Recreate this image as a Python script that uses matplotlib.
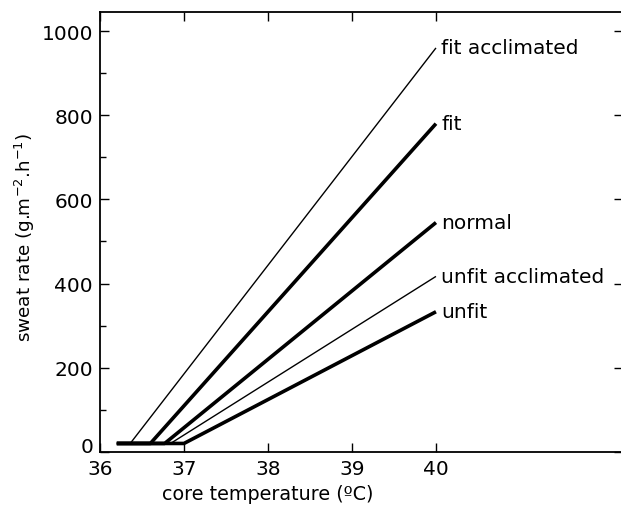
import matplotlib
matplotlib.use("Agg")
import matplotlib.pyplot as plt

plt.rcParams["font.family"] = ["DejaVu Sans"]
plt.rcParams["mathtext.fontset"] = "dejavusans"

# sweat rate vs core temperature: each curve is flat at the baseline, then rises linearly
names = ["fit acclimated", "fit", "normal", "unfit acclimated", "unfit"]
start_temp = [36.2, 36.2, 36.2, 36.2, 36.2]
onset_temp = [36.36, 36.60, 36.77, 36.84, 37.0]
end_temp = [40, 40, 40, 40, 40]
baseline = [20, 20, 20, 20, 20]
end_rate = [960, 780, 545, 417, 333]
widths = [1.0, 2.6, 2.6, 1.0, 2.6]

xticks = [36, 37, 38, 39, 40]
yticks = [0, 200, 400, 600, 800, 1000]

fig = plt.figure(figsize=(6.21, 5.06), dpi=100)
# right spine sits just past the picture edge, as in the cropped original
ax = fig.add_axes([0.161, 0.105, 0.842, 0.869])

for i in range(len(names)):
    xs = [start_temp[i], onset_temp[i], end_temp[i]]
    ys = [baseline[i], baseline[i], end_rate[i]]
    ax.plot(xs, ys, color="black", lw=widths[i], solid_capstyle="butt")
    ax.text(end_temp[i] + 0.06, end_rate[i], names[i], fontsize=14.5,
            va="center", ha="left")

ax.set_xlim(36, 42.225)
ax.set_ylim(0, 1045)
ax.set_xticks(xticks)
ax.set_yticks(yticks)
ax.set_yticks(range(100, 1000, 200), minor=True)
ax.tick_params(axis="both", which="major", direction="in", length=6.5, width=1,
               labelsize=14.5, top=True, right=True)
ax.tick_params(axis="y", which="minor", direction="in", length=4, width=1)
ax.tick_params(axis="x", pad=5)
ax.tick_params(axis="y", pad=5)
for s in ax.spines.values():
    s.set_linewidth(1.3)

# zero label sits just above the x axis
ax.yaxis.get_major_ticks()[0].label1.set_va("baseline")

ax.set_xlabel("core temperature (\u00baC)", fontsize=13.8)
ax.xaxis.set_label_coords((38 - 36) / 6.225, -0.074)
ax.set_ylabel("sweat rate (g.m$^{-2}$.h$^{-1}$)", fontsize=13.2)
ax.yaxis.set_label_coords(-0.12, 0.49)

fig.savefig("out.png", dpi=100)
